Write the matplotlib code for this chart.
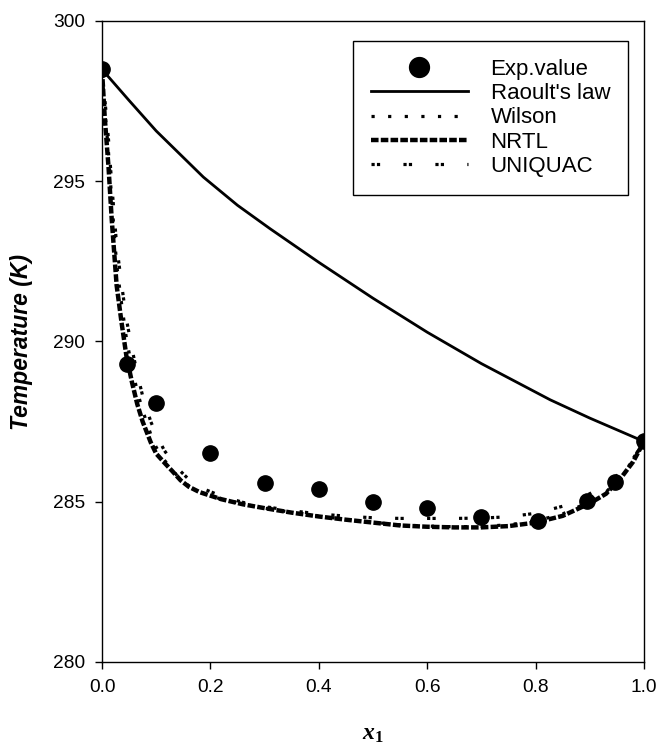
import matplotlib
matplotlib.use("Agg")
import matplotlib.pyplot as plt

plt.rcParams['font.family'] = ['Liberation Sans', 'DejaVu Sans']
plt.rcParams['mathtext.fontset'] = 'custom'
plt.rcParams['mathtext.it'] = 'Liberation Serif:bold:italic'
plt.rcParams['mathtext.rm'] = 'Liberation Serif:bold'

# experimental points
exp_x = [0.0, 0.046, 0.1, 0.2, 0.3, 0.4, 0.5, 0.6, 0.7, 0.805, 0.895, 0.946, 1.0]
exp_T = [298.49, 289.31, 288.07, 286.51, 285.60, 285.40, 285.0, 284.81, 284.51, 284.40, 285.02, 285.62, 286.88]

# Raoult's law (ideal)
raoult_x = [0.0, 0.05, 0.1, 0.187, 0.25, 0.31, 0.4, 0.5, 0.6, 0.7, 0.827, 0.9, 0.974, 1.0]
raoult_T = [298.49, 297.52, 296.57, 295.13, 294.25, 293.52, 292.47, 291.35, 290.29, 289.31, 288.18, 287.61, 287.07, 286.88]

# activity coefficient models (same x grid)
model_x = [0.0, 0.005, 0.012, 0.018, 0.027, 0.036, 0.045, 0.055, 0.065, 0.075, 0.09, 0.1,
           0.115, 0.13, 0.145, 0.16, 0.18, 0.22, 0.26, 0.3, 0.35, 0.4, 0.45, 0.5, 0.55,
           0.6, 0.65, 0.7, 0.75, 0.8, 0.85, 0.9, 0.93, 0.96, 0.98, 1.0]
nrtl_T = [298.49, 297.0, 295.45, 293.8, 291.75, 290.6, 289.55, 288.75, 288.05, 287.5, 286.85, 286.5,
          286.22, 285.95, 285.67, 285.47, 285.3, 285.08, 284.92, 284.8, 284.66, 284.54, 284.44, 284.35, 284.26,
          284.22, 284.2, 284.2, 284.24, 284.35, 284.56, 284.95, 285.25, 285.8, 286.25, 286.88]
wilson_T = [298.49, 297.3, 295.9, 294.4, 292.4, 291.2, 290.1, 289.2, 288.45, 287.85, 287.1, 286.7,
            286.3, 285.98, 285.7, 285.5, 285.3, 285.08, 284.93, 284.8, 284.67, 284.55, 284.45, 284.36, 284.28,
            284.24, 284.22, 284.23, 284.28, 284.4, 284.62, 285.0, 285.3, 285.85, 286.3, 286.88]
uniquac_T = [298.49, 297.6, 296.3, 294.9, 293.0, 291.8, 290.7, 289.8, 289.0, 288.3, 287.5, 287.1,
             286.6, 286.25, 285.95, 285.7, 285.45, 285.18, 284.98, 284.85, 284.72, 284.62, 284.55, 284.5, 284.48,
             284.48, 284.48, 284.49, 284.53, 284.64, 284.86, 285.25, 285.55, 285.95, 286.35, 286.88]

fig = plt.figure(figsize=(6.6, 7.47), dpi=100)
ax = fig.add_axes([102 / 660, 1 - 662 / 747, 542 / 660, 641 / 747])

ax.plot(exp_x, exp_T, 'o', color='black', ms=11, label='Exp.value', zorder=3)
ax.plot(raoult_x, raoult_T, '-', color='black', lw=2.0, label="Raoult's law", zorder=4)
ax.plot(model_x, wilson_T, color='black', lw=2.3, linestyle=(0, (1, 4.2)),
        dash_capstyle='butt', label='Wilson', zorder=4)
ax.plot(model_x, nrtl_T, color='black', lw=3.2, linestyle=(0, (1.7, 0.5)),
        dash_capstyle='butt', label='NRTL', zorder=4)
ax.plot(model_x, uniquac_T, color='black', lw=2.3, linestyle=(0, (1, 0.7, 1, 7.3)),
        dash_capstyle='butt', label='UNIQUAC', zorder=4)

ax.set_xlim(0, 1)
ax.set_ylim(280, 300)
ax.set_xticks([0.0, 0.2, 0.4, 0.6, 0.8, 1.0])
ax.set_yticks([280, 285, 290, 295, 300])
ax.tick_params(axis='both', direction='out', length=5, width=1, labelsize=13.8, pad=7,
               top=False, right=False)
for s in ax.spines.values():
    s.set_linewidth(1.0)
    s.set_color('black')

ax.set_ylabel('Temperature (K)', fontsize=16.5, fontweight='bold', style='italic')
ax.yaxis.set_label_coords(-0.127, 0.5)
ax.set_xlabel(r'$\mathit{x_1}$', fontsize=17)
ax.xaxis.set_label_coords(0.5, -0.095)

leg = ax.legend(loc='upper right', bbox_to_anchor=(0.9705, 0.9688), borderaxespad=0,
                fontsize=16, numpoints=1, markerscale=1.3, handlelength=4.4,
                handletextpad=1.0, labelspacing=0.15, borderpad=0.8, fancybox=False,
                framealpha=1, edgecolor='black')
leg.get_frame().set_linewidth(1.0)

fig.savefig('out.png', dpi=100)
